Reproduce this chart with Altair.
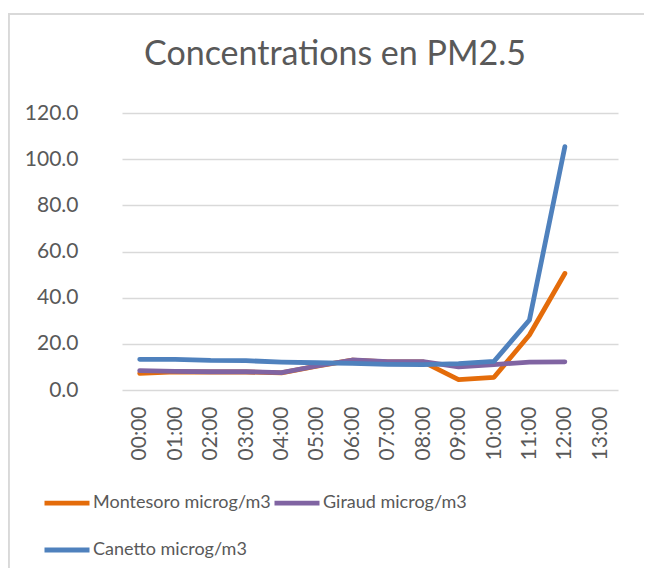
import altair as alt
import pandas as pd

hours = ["00:00", "01:00", "02:00", "03:00", "04:00", "05:00", "06:00",
         "07:00", "08:00", "09:00", "10:00", "11:00", "12:00", "13:00"]
series_names = ["Montesoro microg/m3", "Giraud microg/m3", "Canetto microg/m3"]
montesoro = [7.2, 7.9, 7.8, 7.8, 7.4, 10.3, 12.9, 12.2, 12.2, 4.5, 5.5, 23.8, 50.5]
giraud = [8.4, 8.1, 7.9, 7.9, 7.5, 10.4, 13.0, 12.3, 12.3, 10.0, 11.0, 12.1, 12.2]
canetto = [13.3, 13.3, 12.8, 12.7, 12.1, 11.8, 11.5, 11.1, 11.0, 11.4, 12.4, 30.3, 105.4]
colors = ["#E46C0A", "#8064A2", "#4F81BD"]
y_ticks = [0, 20, 40, 60, 80, 100, 120]

rows = []
for k, (name, vals) in enumerate(zip(series_names, [montesoro, giraud, canetto])):
    for i, v in enumerate(vals):
        rows.append({"heure": hours[i], "serie": name, "valeur": v, "ordre": k})
df = pd.DataFrame(rows)

FONT = "Lato"
TXT = "#595959"
GRID = "#D9D9D9"

lines = alt.Chart(df).mark_line(strokeWidth=4.8, strokeCap="round", strokeJoin="round").encode(
    x=alt.X("heure:O", scale=alt.Scale(domain=hours, type="point", padding=0.5),
            axis=alt.Axis(title=None, labelAngle=270, labelFont=FONT, labelFontSize=21,
                          labelColor=TXT, ticks=False, tickSize=0, domain=False, grid=False,
                          labelPadding=16, labelAlign="right", labelBaseline="middle")),
    y=alt.Y("valeur:Q", scale=alt.Scale(domain=[0, 120], nice=False),
            axis=alt.Axis(title=None, values=y_ticks, format=".1f", labelFont=FONT,
                          labelFontSize=21, labelColor=TXT, ticks=False, tickSize=0,
                          domain=False, grid=True, gridColor=GRID, gridWidth=1.5,
                          labelPadding=44)),
    color=alt.Color("serie:N",
                    scale=alt.Scale(domain=series_names, range=colors),
                    legend=alt.Legend(title=None, orient="none", legendX=-80, legendY=365,
                                      columns=2, direction="horizontal", symbolType="stroke",
                                      symbolSize=2025,
                                      symbolStrokeWidth=4.8, labelFont=FONT, labelFontSize=18,
                                      labelColor=TXT, labelOffset=1, columnPadding=-7,
                                      rowPadding=12, labelLimit=400)),
    order=alt.Order("ordre:Q"),
    detail="serie:N",
)

border_top = alt.Chart(df).mark_rule(color=GRID, strokeWidth=1.5).encode(
    x=alt.value(-114), x2=alt.value(700), y=alt.value(-99)
)
border_left = alt.Chart(df).mark_rule(color=GRID, strokeWidth=1.5).encode(
    x=alt.value(-113.5), y=alt.value(-99), y2=alt.value(600)
)

chart = alt.layer(lines, border_top, border_left).properties(
    width=496,
    height=277,
    autosize=alt.AutoSizeParams(type="none"),
    padding={"left": 114, "top": 105, "right": 26, "bottom": 178},
    title=alt.TitleParams("Concentrations en PM2.5", font=FONT, fontSize=34,
                          fontWeight="normal", color=TXT, anchor="middle",
                          frame="group", baseline="alphabetic", offset=0, dx=-35, dy=86),
).configure_view(stroke=None)

chart.save("out.html", embed_options={"renderer": "svg", "actions": False})
